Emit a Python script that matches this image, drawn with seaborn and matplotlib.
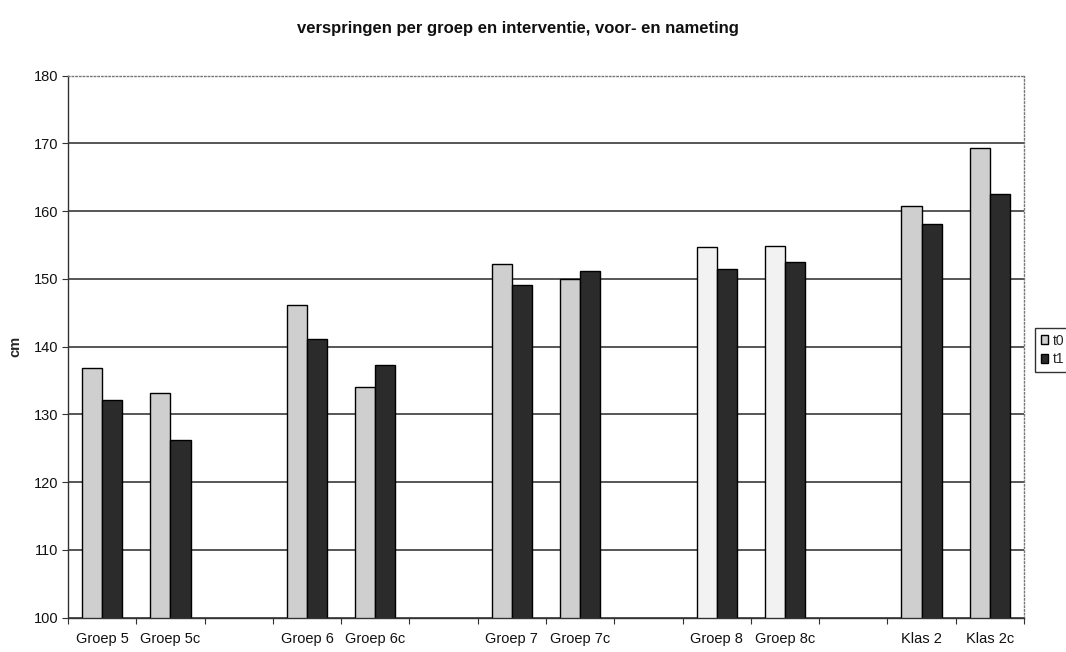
import numpy as np
import pandas as pd
import matplotlib
matplotlib.use("Agg")
import matplotlib.pyplot as plt
import seaborn as sns
from matplotlib.patches import Patch

# Standing long jump (cm) per group, pre-test (t0) and post-test (t1)
groups = ["Groep 5", "Groep 5c", "Groep 6", "Groep 6c", "Groep 7", "Groep 7c",
          "Groep 8", "Groep 8c", "Klas 2", "Klas 2c"]
t0 = [136.8, 133.1, 146.2, 134.0, 152.2, 150.0, 154.7, 154.9, 160.8, 169.4]
t1 = [132.2, 126.3, 141.1, 137.3, 149.1, 151.2, 151.5, 152.5, 158.1, 162.6]
series = ["t0", "t1"]
y_ticks = [100, 110, 120, 130, 140, 150, 160, 170, 180]

title = "verspringen per groep en interventie, voor- en nameting"
y_label = "cm"

df = pd.DataFrame({
    "groep": groups * 2,
    "meting": ["t0"] * len(groups) + ["t1"] * len(groups),
    "cm": t0 + t1,
})

# category axis: pairs of groups separated by an empty slot
order = []
for i in range(0, len(groups), 2):
    order += groups[i:i + 2]
    if i + 2 < len(groups):
        order.append(" " * (i // 2 + 1))

sns.set_theme(style="white")
plt.rcParams["font.family"] = ["Liberation Sans", "DejaVu Sans"]

fig = plt.figure(figsize=(10.66, 6.52), dpi=100)
ax = fig.add_axes([0.0638, 0.0526, 0.8968, 0.8313])

palette = {"t0": "#cfcfcf", "t1": "#2b2b2b"}
sns.barplot(data=df, x="groep", y="cm", hue="meting", order=order,
            hue_order=series, palette=palette, width=0.59, gap=0,
            edgecolor="black", linewidth=1.0, saturation=1,
            legend=False, ax=ax)

# the two Groep 8 pre-test bars print almost white
light_idx = {order.index("Groep 8"), order.index("Groep 8c")}
for bar in ax.containers[0]:
    cx = bar.get_x() + bar.get_width() / 2
    if int(round(cx)) in light_idx:
        bar.set_facecolor("#f2f2f2")

ax.set_ylim(100, 180)
ax.set_xlim(-0.5, len(order) - 0.5)
ax.set_yticks(y_ticks)
ax.set_yticklabels([str(v) for v in y_ticks], fontsize=10.5, color="#111111")

# tick marks at slot boundaries, labels at slot centres
ax.set_xticks(np.arange(-0.5, len(order), 1.0))
ax.set_xticklabels([])
ax.set_xticks(np.arange(len(order)), minor=True)
ax.set_xticklabels(order, minor=True, fontsize=10.5, color="#111111")
ax.tick_params(axis="x", which="major", direction="out", length=4, width=0.8,
               color="#333333", bottom=True)
ax.tick_params(axis="x", which="minor", length=0, pad=10)
ax.tick_params(axis="y", direction="out", length=4, width=0.8,
               color="#333333", left=True, pad=3)

ax.set_xlabel("")
ax.set_ylabel(y_label, fontsize=10.5, fontweight="bold", labelpad=8)

ax.set_axisbelow(True)
ax.yaxis.grid(True, color="#3a3a3a", linewidth=1.2)
ax.yaxis.get_gridlines()[-1].set_visible(False)

for side in ("left", "bottom"):
    ax.spines[side].set_color("#333333")
    ax.spines[side].set_linewidth(1.0)
for side in ("top", "right"):
    ax.spines[side].set_color("#777777")
    ax.spines[side].set_linestyle(":")
    ax.spines[side].set_linewidth(1.0)

fig.text(0.486, 0.957, title, ha="center", va="center",
         fontsize=12, fontweight="bold", color="#111111")

handles = [Patch(facecolor=palette[s], edgecolor="black", linewidth=1.0, label=s)
           for s in series]
fig.legend(handles=handles, loc="upper left",
           bbox_to_anchor=(1035 / 1066, 1 - 328 / 652),
           frameon=True, fancybox=False, edgecolor="black", fontsize=10,
           handlelength=0.55, handleheight=0.6, handletextpad=0.3,
           borderpad=0.4, labelspacing=0.35, borderaxespad=0)

fig.savefig("out.png", dpi=100)
